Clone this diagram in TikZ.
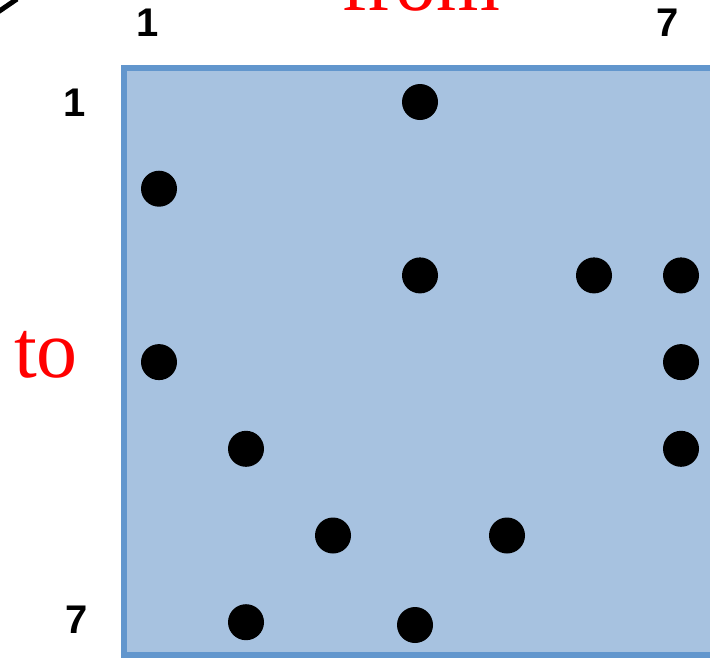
\documentclass[tikz,border=0pt]{standalone}
\usepackage{fontspec}
\setmainfont{Liberation Serif}
\newfontfamily\labelfont{Liberation Sans}
\usetikzlibrary{positioning}
\definecolor{GridBlue}{RGB}{167,194,224}
\definecolor{EdgeBlue}{RGB}{98,150,205}
\definecolor{TitleRed}{RGB}{255,0,0}
\tikzset{
  grid/.style={draw=EdgeBlue,fill=GridBlue,line width=3pt},
  dot/.style={circle,fill=black,inner sep=0pt,minimum size=18pt},
  idx/.style={anchor=base,inner sep=0pt,font=\labelfont\bfseries\fontsize{20}{24}\selectfont},
  axis/.style={anchor=base,inner sep=0pt,text=TitleRed,font=\fontsize{41}{46}\selectfont},
  stub/.style={line width=2.5pt,draw=black}
}

\begin{document}
\begin{tikzpicture}[x=0.5pt,y=-0.5pt]
  \useasboundingbox (0,0) rectangle (710,660);
  \clip (0,0) rectangle (710,660);
  % matrix area
  \draw[grid] (124,68) rectangle (780,655);
  % axis titles and indices
  \node[axis] (from) at (421,10) {from};
  \node[axis] (to) at (46,377) {to};
  \node[idx] (c1) at (148,36) {1};
  \node[idx] (c7) at (668,36) {7};
  \node[idx] (r1) at (75,116) {1};
  \node[idx] (r7) at (77,633) {7};
  \coordinate (s0) at (-2,12);
  \coordinate (s1) at (17,-1);
  \draw[stub] (s0) -- (s1);
  % entries (column/row)
  \foreach \c/\r in {4/1,1/2,4/3,6/3,7/3,1/4,7/4,2/5,7/5,3/6,5/6,2/7}
    \node[dot] (d\c-\r) at ({159+87*(\c-1)},{102+86.7*(\r-1)}) {};
  \node[dot] (d4-7) at (415,625) {};
\end{tikzpicture}
\end{document}
